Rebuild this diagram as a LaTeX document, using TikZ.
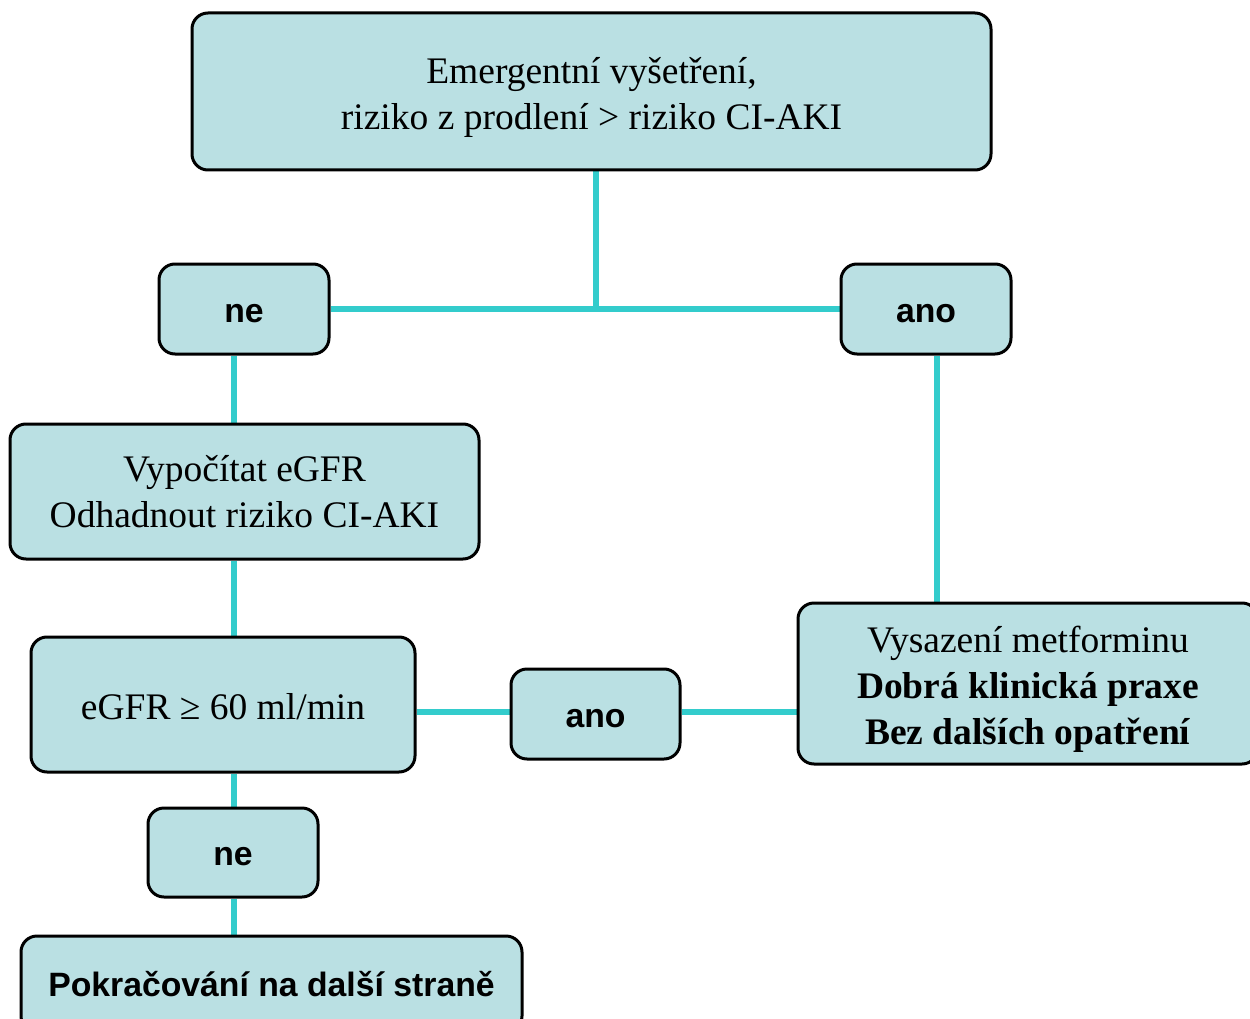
\documentclass[tikz,border=0pt]{standalone}
\usepackage{fontspec}
\setmainfont{Liberation Serif}
\setsansfont{Liberation Sans}
\usetikzlibrary{backgrounds}
\definecolor{boxfill}{HTML}{BAE0E3}
\definecolor{conncol}{HTML}{33CCCC}
\begin{document}
\begin{tikzpicture}[x=1pt,y=-1pt,
  box/.style={draw=black, line width=3pt, fill=boxfill, rounded corners=16pt, align=center, inner sep=0pt, font=\fontsize{37.5}{46}\selectfont},
  sbox/.style={box, font=\fontsize{33.75}{40}\sffamily\bfseries},
  bl/.style={execute at begin node={\rule{0pt}{#1pt}}, execute at end node={\rule[-20pt]{0pt}{20pt}}},
  conn/.style={draw=conncol, line width=6pt}]
\useasboundingbox (0,0) rectangle (1250,1019);
\clip (0,0) rectangle (1250,1019);
\coordinate (j) at (596,307);
\coordinate (cx) at (234,0);
\coordinate (rx) at (937,0);
% boxes
\node[box, bl=96, minimum width=799pt, minimum height=157pt] (top) at (591.5,91.5) {Emergentní vyšetření,\\riziko z prodlení > riziko CI-AKI};
\node[sbox, bl=46, minimum width=170pt, minimum height=90pt] (ne1) at (244,309) {ne};
\node[sbox, bl=46, minimum width=170pt, minimum height=90pt] (ano1) at (926,309) {ano};
\node[box, bl=91, minimum width=469pt, minimum height=135pt] (calc) at (244.5,491.5) {Vypočítat eGFR\\Odhadnout riziko CI-AKI};
\node[box, bl=49, minimum width=384pt, minimum height=135pt] (egfr) at (223,704.5) {eGFR ≥ 60 ml/min};
\node[sbox, bl=46, minimum width=169pt, minimum height=90pt] (ano2) at (595.5,714) {ano};
\node[box, bl=141, minimum width=460pt, minimum height=159pt] (vys) at (1028,683.5) {Vysazení metforminu\\\textbf{Dobrá klinická praxe}\\\textbf{Bez dalších opatření}};
\node[sbox, bl=46, minimum width=170pt, minimum height=89pt] (ne2) at (233,852.5) {ne};
\node[sbox, bl=44.6, minimum width=501pt, minimum height=96pt] (pok) at (271.5,984) {Pokračování na další straně};
\begin{scope}[on background layer]
\draw[conn] (j) -- (j |- top.south);
\draw[conn] (ne1.east) -- (ano1.west);
\draw[conn] (ne1.south -| cx) -- (calc.north -| cx);
\draw[conn] (calc.south -| cx) -- (egfr.north -| cx);
\draw[conn] (egfr.south -| cx) -- (ne2.north -| cx);
\draw[conn] (ne2.south -| cx) -- (pok.north -| cx);
\draw[conn] (ano1.south -| rx) -- (vys.north -| rx);
\draw[conn] (egfr.east |- 0,712) -- (ano2.west |- 0,712);
\draw[conn] (ano2.east |- 0,712) -- (vys.west |- 0,712);
\end{scope}
\end{tikzpicture}
\end{document}
